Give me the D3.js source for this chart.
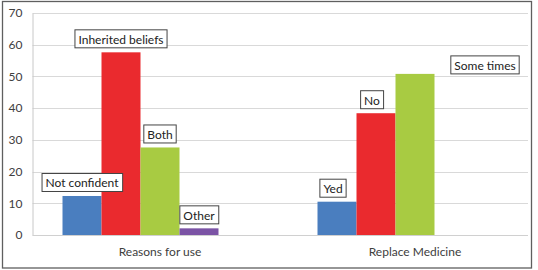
<!DOCTYPE html>
<html><head><meta charset="utf-8">
<script src="https://cdn.jsdelivr.net/npm/d3@7"></script>
<style>body{margin:0;background:#fff}svg{display:block}text{font-family:Lato,"Open Sans",sans-serif}</style>
</head><body><svg id="c" width="538" height="270"></svg>
<script>
const categories = ["Reasons for use", "Replace Medicine"];
const series = ["s1", "s2", "s3", "s4", "s5"];
const values = [
  [12.3, 57.6, 27.6, 2.1],
  [10.5, 38.4, 50.8]
];
const labels = [
  ["Not confident", "Inherited beliefs", "Both", "Other"],
  ["Yed", "No", "Some times"]
];
const labelShift = [
  [[0, 0], [0, 0], [0, 0], [0, 0]],
  [[-4, 0], [-4, 0], [70, 4.5]]
];
const yTicks = [0, 10, 20, 30, 40, 50, 60, 70];
const colors = ["#4a7ebf", "#ea2a2e", "#a8cb42", "#7b53a5", "#ffffff"];

const svg = d3.select("#c");
const L = 32.5, T = 13, B = 235, Rgrid = 528;
const x0 = d3.scaleBand().domain(categories).range([L, L + 510]).paddingInner(0).paddingOuter(0);
const x1 = d3.scaleBand().domain(series).range([30, 225]);
const y = d3.scaleLinear().domain([0, 70]).range([B, T]);

// outer border
svg.append("rect").attr("x", 2.5).attr("y", 1.5).attr("width", 529).attr("height", 266.5)
  .attr("fill", "#fff").attr("stroke", "#5f5f5f").attr("stroke-width", 1.3);

// gridlines
svg.append("g").selectAll("line").data(yTicks.slice(1)).join("line")
  .attr("x1", L).attr("x2", Rgrid).attr("y1", d => Math.round(y(d)) + 0.5).attr("y2", d => Math.round(y(d)) + 0.5)
  .attr("stroke", "#d9d9d9").attr("stroke-width", 1);

// y axis
const yAxis = d3.axisLeft(y).tickValues(yTicks).tickSize(0).tickPadding(10);
const ga = svg.append("g").attr("transform", `translate(${L},0)`).call(yAxis);
ga.select(".domain").attr("stroke", "#c8c8c8");
ga.selectAll("text").attr("font-size", 12).attr("fill", "#404040");

// x axis baseline
const xAxis = d3.axisBottom(x0).tickSize(0).tickPadding(12);
const gx = svg.append("g").attr("transform", `translate(0,${B})`).call(xAxis);
gx.select(".domain").remove();
gx.append("line").attr("x1", L).attr("x2", Rgrid).attr("y1", 0.5).attr("y2", 0.5).attr("stroke", "#d0d0d0");
gx.selectAll("text").attr("font-size", 12).attr("fill", "#404040");

// bars
const groups = svg.append("g").selectAll("g").data(categories).join("g")
  .attr("transform", d => `translate(${x0(d)},0)`);
groups.selectAll("rect").data((d, i) => values[i].map((v, j) => ({v, j})))
  .join("rect")
  .attr("x", d => x1(series[d.j])).attr("width", x1.bandwidth())
  .attr("y", d => y(d.v)).attr("height", d => y(0) - y(d.v))
  .attr("fill", d => colors[d.j]);

// data labels
groups.each(function(cat, i) {
  const g = d3.select(this);
  values[i].forEach((v, j) => {
    const cx = x1(series[j]) + x1.bandwidth() / 2 + labelShift[i][j][0];
    const by = y(v) - 4 + labelShift[i][j][1];
    const lg = g.append("g");
    const t = lg.append("text").text(labels[i][j]).attr("x", cx).attr("y", by - 4.5)
      .attr("text-anchor", "middle").attr("font-size", 12).attr("fill", "#222");
    const bb = t.node().getBBox();
    lg.insert("rect", "text").attr("x", bb.x - 3.5).attr("y", by - 18.5).attr("width", bb.width + 7).attr("height", 18)
      .attr("fill", "#fff").attr("stroke", "#444").attr("stroke-width", 1);
  });
});
</script></body></html>
